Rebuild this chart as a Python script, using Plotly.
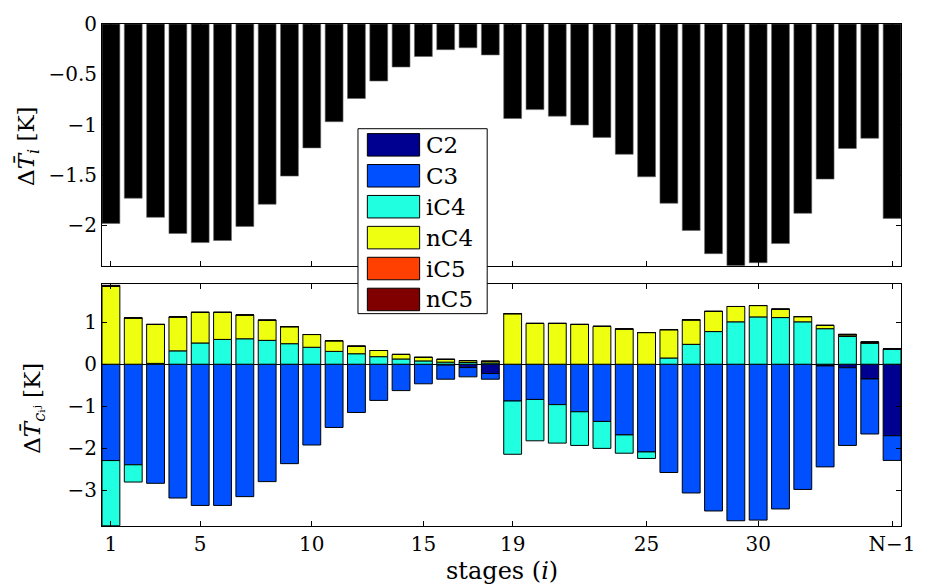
import plotly.graph_objects as go
from plotly.subplots import make_subplots

# ---------------- data ----------------
stages = list(range(1, 37))
tick_vals = [1, 5, 10, 15, 19, 25, 30, 36]
tick_text = ["1", "5", "10", "15", "19", "25", "30", "N\u22121"]

dT_stage = [-1.98, -1.73, -1.92, -2.08, -2.17, -2.15, -2.01, -1.79, -1.51, -1.23,
            -0.97, -0.74, -0.566, -0.427, -0.323, -0.255, -0.236, -0.307, -0.938, -0.85,
            -0.915, -1.003, -1.126, -1.294, -1.517, -1.78, -2.05, -2.28, -2.40, -2.37,
            -2.18, -1.88, -1.54, -1.236, -1.135, -1.93]

components = ["C2", "C3", "iC4", "nC4", "iC5", "nC5"]
colors = ["#000090", "#0050FF", "#20FFDF", "#EEFF10", "#FF4000", "#800000"]

C2 = [0, 0, 0, 0, 0, 0, 0, 0, 0, 0,
      0, 0, 0, 0, 0, -0.02, -0.08, -0.22, 0, 0,
      0, 0, 0, 0, 0, 0, 0, 0, 0, 0,
      0, 0, -0.04, -0.084, -0.35, -1.70]
C3 = [-2.29, -2.39, -2.83, -3.18, -3.356, -3.356, -3.147, -2.79, -2.363, -1.92,
      -1.503, -1.147, -0.86, -0.627, -0.465, -0.336, -0.22, -0.136, -0.875, -0.837,
      -0.96, -1.13, -1.36, -1.68, -2.085, -2.573, -3.06, -3.488, -3.72, -3.705,
      -3.44, -2.976, -2.40, -1.846, -1.308, -0.586]
iC4 = [-1.55, -0.41, 0.02, 0.318, 0.505, 0.59, 0.605, 0.567, 0.488, 0.403,
       0.305, 0.249, 0.18, 0.125, 0.079, 0.05, 0.04, 0.03, -1.265, -0.983,
       -0.915, -0.80, -0.64, -0.435, -0.155, 0.148, 0.473, 0.776, 1.008, 1.125,
       1.109, 1.008, 0.845, 0.66, 0.497, 0.365]
nC4 = [1.857, 1.10, 0.926, 0.807, 0.728, 0.643, 0.566, 0.48, 0.405, 0.303,
       0.253, 0.179, 0.146, 0.108, 0.084, 0.066, 0.046, 0.04, 1.202, 0.97,
       0.97, 0.946, 0.90, 0.838, 0.753, 0.674, 0.582, 0.48, 0.364, 0.27,
       0.20, 0.124, 0.078, 0.04, 0.03, 0.0]
iC5 = [0.0] * 36
nC5 = [0.02, 0, 0, 0, 0, 0, 0, 0, 0, 0,
       0, 0, 0, 0, 0, 0, 0, 0, 0, 0,
       0, 0, 0, 0, 0, 0, 0, 0, 0, 0,
       0, 0, 0, 0.014, 0, 0]
series = [C2, C3, iC4, nC4, iC5, nC5]

FONT = "DejaVu Serif"
TICK_SIZE = 20
LABEL_SIZE = 23
LEGEND_SIZE = 23

# ---------------- figure ----------------
fig = make_subplots(rows=2, cols=1, shared_xaxes=False, vertical_spacing=0.037)

fig.add_trace(go.Bar(x=stages, y=dT_stage, width=0.8,
                     marker=dict(color="black", line=dict(color="#666666", width=0.6)),
                     showlegend=False), row=1, col=1)

for name, col, vals in zip(components, colors, series):
    fig.add_trace(go.Bar(x=stages, y=vals, width=0.8, name=name,
                         marker=dict(color=col, line=dict(color="black", width=1)),
                         showlegend=False), row=2, col=1)

axis_common = dict(showline=True, linecolor="black", linewidth=1, mirror="ticks",
                   ticks="inside", ticklen=5, tickcolor="black", showgrid=False,
                   zeroline=False, tickfont=dict(family=FONT, size=TICK_SIZE, color="black"))

fig.update_xaxes(range=[0.6, 36.4], tickvals=tick_vals, ticktext=tick_text, **axis_common)
fig.update_xaxes(showticklabels=False, row=1, col=1)
fig.update_yaxes(**axis_common)
fig.update_yaxes(range=[-2.4, 0], tickvals=[0, -0.5, -1, -1.5, -2], row=1, col=1)
fig.update_yaxes(range=[-3.845, 1.9], tickvals=[1, 0, -1, -2, -3], row=2, col=1)
fig.update_yaxes(zeroline=True, zerolinecolor="black", zerolinewidth=1, row=2, col=1)

fig.update_layout(
    width=927, height=585,
    margin=dict(l=102, r=15, t=13, b=59),
    barmode="relative", bargap=0.2,
    plot_bgcolor="white", paper_bgcolor="white",
    font=dict(family=FONT, size=TICK_SIZE, color="black"),
)
fig.layout.yaxis.domain = [0.5185, 1.0]
fig.layout.yaxis2.domain = [0.0, 0.4815]

# axis titles
fig.add_annotation(text="\u0394<i>T\u0304</i><sub><i>i</i></sub> [K]", xref="paper", yref="paper",
                   x=-0.092, y=0.758, textangle=-90, showarrow=False,
                   font=dict(family=FONT, size=LABEL_SIZE), xanchor="center", yanchor="middle")
fig.add_annotation(text="\u0394<i>T\u0304</i><sub><i>c</i>\u1d62\u02b2</sub> [K]", xref="paper", yref="paper",
                   x=-0.086, y=0.234, textangle=-90, showarrow=False,
                   font=dict(family=FONT, size=LABEL_SIZE), xanchor="center", yanchor="middle")
fig.add_annotation(text="stages (<i>i</i>)", xref="paper", yref="paper",
                   x=0.5, y=-0.09, showarrow=False,
                   font=dict(family=FONT, size=LABEL_SIZE + 1), xanchor="center", yanchor="middle")

# custom legend box (large swatches like the original)
px_w, px_h = 810.0, 513.0
def px_x(p):
    return (p - 102) / px_w
def px_y(p):
    return (526 - p) / px_h

shapes = [dict(type="rect", xref="paper", yref="paper", layer="above",
               x0=px_x(361.5), x1=px_x(492.5), y0=px_y(309), y1=px_y(120),
               fillcolor="white", line=dict(color="black", width=1))]
for k, (name, col) in enumerate(zip(components, colors)):
    cy = 136.5 + k * 31.6
    shapes.append(dict(type="rect", xref="paper", yref="paper", layer="above",
                       x0=px_x(371), x1=px_x(424), y0=px_y(cy + 11.5), y1=px_y(cy - 11.5),
                       fillcolor=col, line=dict(color="black", width=1)))
    fig.add_annotation(text=name, xref="paper", yref="paper", x=px_x(428), y=px_y(cy),
                       xanchor="left", yanchor="middle", showarrow=False,
                       font=dict(family=FONT, size=LEGEND_SIZE, color="black"))
fig.update_layout(shapes=shapes)

fig.write_html("out.html")
